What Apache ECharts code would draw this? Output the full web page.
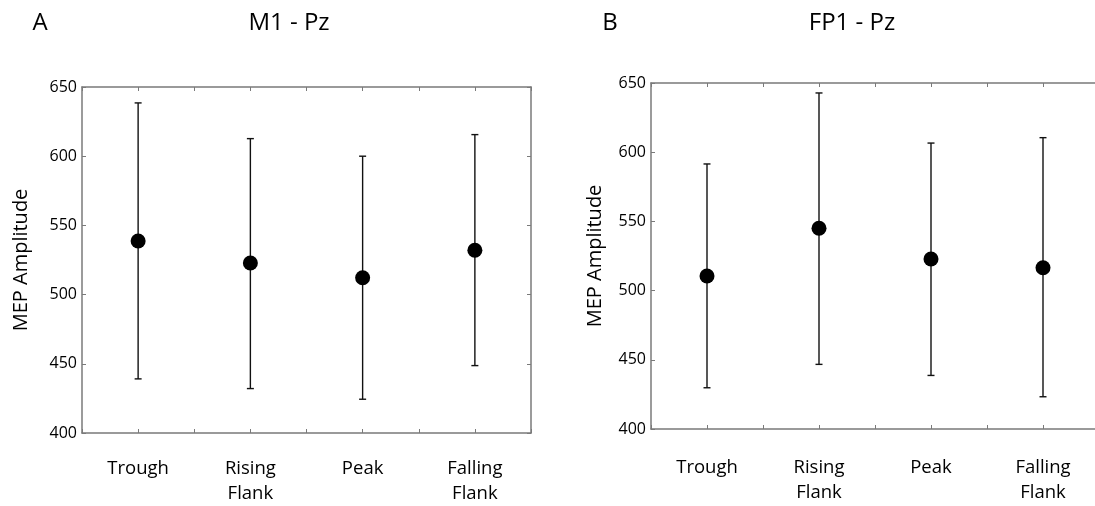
<!DOCTYPE html>
<html>
<head>
<meta charset="utf-8">
<script src="https://cdn.jsdelivr.net/npm/echarts@6/dist/echarts.min.js"></script>
<style>
html,body{margin:0;padding:0;background:#fff;}
#chart{width:1095px;height:506px;}
</style>
</head>
<body>
<div id="chart"></div>
<script>
var categories = ['Trough', 'Rising\nFlank', 'Peak', 'Falling\nFlank'];
var yTicks = [400, 450, 500, 550, 600, 650];

var panelLabels = ['A', 'B'];
var panelTitles = ['M1 - Pz', 'FP1 - Pz'];

var meanA  = [538.7, 522.8, 512.2, 532.0];
var upperA = [638.5, 612.7, 600.0, 615.6];
var lowerA = [439.1, 432.1, 424.4, 448.7];

var meanB  = [510.5, 545.0, 522.8, 516.5];
var upperB = [591.5, 642.8, 606.6, 610.5];
var lowerB = [429.8, 446.7, 438.7, 423.3];

var FONT = '"Open Sans", sans-serif';
var FRAME = '#7a7a7a';

function xPos(i) { return 2 * i + 1; }

function makeAxes(gi, nameGap, labelMargin) {
  var xBottom = {
    type: 'value', gridIndex: gi, min: 0, max: 2 * categories.length, interval: 1,
    position: 'bottom',
    axisLine: { show: true, onZero: false, lineStyle: { color: FRAME, width: 1.5 } },
    axisTick: { show: true, inside: true, length: 4, lineStyle: { color: FRAME } },
    splitLine: { show: false },
    axisLabel: {
      show: true, margin: labelMargin, color: '#000', fontFamily: FONT, fontSize: 18.5, lineHeight: 25,
      verticalAlign: 'top', showMinLabel: true, showMaxLabel: true,
      formatter: function (v) {
        if (v % 2 === 1) { return categories[(v - 1) / 2]; }
        return '';
      }
    }
  };
  var xTop = {
    type: 'value', gridIndex: gi, min: 0, max: 2 * categories.length, interval: 1,
    position: 'top',
    axisLine: { show: true, onZero: false, lineStyle: { color: FRAME, width: 1.5 } },
    axisTick: { show: true, inside: true, length: 4, lineStyle: { color: FRAME } },
    splitLine: { show: false },
    axisLabel: { show: false }
  };
  var yLeft = {
    type: 'value', gridIndex: gi, min: yTicks[0], max: yTicks[yTicks.length - 1],
    interval: yTicks[1] - yTicks[0], position: 'left',
    name: 'MEP Amplitude', nameLocation: 'middle', nameGap: nameGap,
    nameTextStyle: { fontFamily: FONT, fontSize: 20, color: '#000' },
    axisLine: { show: true, onZero: false, lineStyle: { color: FRAME, width: 1.5 } },
    axisTick: { show: true, inside: true, length: 4, lineStyle: { color: FRAME } },
    splitLine: { show: false },
    axisLabel: { show: true, margin: 5, color: '#000', fontFamily: FONT, fontSize: 16 }
  };
  var yRight = {
    type: 'value', gridIndex: gi, min: yTicks[0], max: yTicks[yTicks.length - 1],
    interval: yTicks[1] - yTicks[0], position: 'right',
    axisLine: { show: true, onZero: false, lineStyle: { color: FRAME, width: 1.5 } },
    axisTick: { show: true, inside: true, length: 4, lineStyle: { color: FRAME } },
    splitLine: { show: false },
    axisLabel: { show: false }
  };
  return { x: [xBottom, xTop], y: [yLeft, yRight] };
}

function errorData(lower, upper) {
  return categories.map(function (c, i) { return [xPos(i), lower[i], upper[i]]; });
}
function pointData(mean) {
  return categories.map(function (c, i) { return [xPos(i), mean[i]]; });
}

function renderErr(params, api) {
  var x = api.value(0);
  var lo = api.coord([x, api.value(1)]);
  var hi = api.coord([x, api.value(2)]);
  var cap = 3.5;
  var style = { stroke: '#111', lineWidth: 1.4 };
  return {
    type: 'group',
    children: [
      { type: 'line', shape: { x1: lo[0], y1: lo[1], x2: hi[0], y2: hi[1] }, style: style },
      { type: 'line', shape: { x1: hi[0] - cap, y1: hi[1], x2: hi[0] + cap, y2: hi[1] }, style: style },
      { type: 'line', shape: { x1: lo[0] - cap, y1: lo[1], x2: lo[0] + cap, y2: lo[1] }, style: style }
    ]
  };
}

var axA = makeAxes(0, 51, 23);
var axB = makeAxes(1, 46, 26);

var option = {
  backgroundColor: '#fff',
  animation: false,
  grid: [
    { left: 82, top: 87, width: 449, height: 346, outerBoundsMode: 'none', containLabel: false },
    { left: 651, top: 83, width: 448, height: 346, outerBoundsMode: 'none', containLabel: false }
  ],
  xAxis: [axA.x[0], axA.x[1], axB.x[0], axB.x[1]],
  yAxis: [axA.y[0], axA.y[1], axB.y[0], axB.y[1]],
  graphic: [
    { type: 'text', x: 40, y: 23, style: { text: panelLabels[0], font: '24px ' + FONT, fill: '#000', textAlign: 'center', textVerticalAlign: 'middle' } },
    { type: 'text', x: 289, y: 23, style: { text: panelTitles[0], font: '24px ' + FONT, fill: '#000', textAlign: 'center', textVerticalAlign: 'middle' } },
    { type: 'text', x: 610, y: 23, style: { text: panelLabels[1], font: '24px ' + FONT, fill: '#000', textAlign: 'center', textVerticalAlign: 'middle' } },
    { type: 'text', x: 852, y: 23, style: { text: panelTitles[1], font: '24px ' + FONT, fill: '#000', textAlign: 'center', textVerticalAlign: 'middle' } }
  ],
  series: [
    { type: 'custom', xAxisIndex: 0, yAxisIndex: 0, renderItem: renderErr, data: errorData(lowerA, upperA), z: 2 },
    { type: 'scatter', xAxisIndex: 0, yAxisIndex: 0, data: pointData(meanA), symbolSize: 15, itemStyle: { color: '#000', opacity: 1 }, z: 3 },
    { type: 'custom', xAxisIndex: 2, yAxisIndex: 2, renderItem: renderErr, data: errorData(lowerB, upperB), z: 2 },
    { type: 'scatter', xAxisIndex: 2, yAxisIndex: 2, data: pointData(meanB), symbolSize: 15, itemStyle: { color: '#000', opacity: 1 }, z: 3 }
  ]
};

var chart = echarts.init(document.getElementById('chart'), null, { renderer: 'canvas' });
chart.setOption(option);
</script>
</body>
</html>
